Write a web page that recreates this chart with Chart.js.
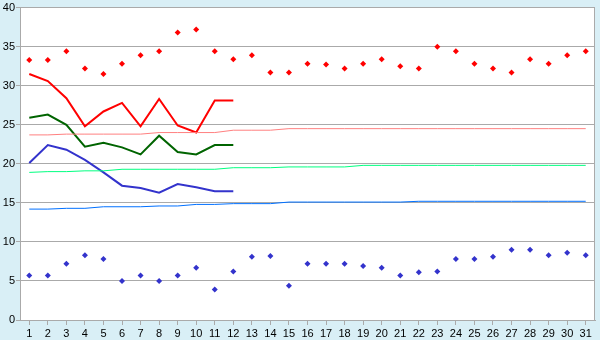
<!DOCTYPE html>
<html>
<head>
<meta charset="utf-8">
<title>Temperatures</title>
<script src="https://cdn.jsdelivr.net/npm/chart.js@4.4.1/dist/chart.umd.min.js"></script>
<style>
  html, body { margin: 0; padding: 0; background: #d9eff6; }
  #wrap { width: 600px; height: 340px; }
</style>
</head>
<body>
<div id="wrap"><canvas id="chart" width="600" height="340"></canvas></div>
<script>
const days = ["1","2","3","4","5","6","7","8","9","10","11","12","13","14","15","16","17","18","19","20","21","22","23","24","25","26","27","28","29","30","31"];

// daily extremes (diamonds)
const maxPoints = [33.3, 33.3, 34.4, 32.2, 31.5, 32.8, 33.9, 34.4, 36.8, 37.2, 34.4, 33.4, 33.9, 31.7, 31.7, 32.8, 32.7, 32.2, 32.8, 33.4, 32.5, 32.2, 35.0, 34.4, 32.8, 32.2, 31.7, 33.4, 32.8, 33.9, 34.4];
const minPoints = [5.7, 5.7, 7.2, 8.3, 7.8, 5.0, 5.7, 5.0, 5.7, 6.7, 3.9, 6.2, 8.1, 8.2, 4.4, 7.2, 7.2, 7.2, 6.9, 6.7, 5.7, 6.1, 6.2, 7.8, 7.8, 8.1, 9.0, 9.0, 8.3, 8.6, 8.3];

// first 12 days, thick lines
const redLine   = [31.5, 30.6, 28.4, 24.8, 26.7, 27.8, 24.8, 28.3, 24.9, 24.0, 28.1, 28.1];
const greenLine = [25.9, 26.3, 25.0, 22.2, 22.7, 22.1, 21.2, 23.6, 21.5, 21.2, 22.4, 22.4];
const blueLine  = [20.1, 22.4, 21.8, 20.5, 18.9, 17.2, 16.9, 16.3, 17.4, 17.0, 16.5, 16.5];

// thin reference lines
const normMax  = [23.7, 23.7, 23.8, 23.8, 23.8, 23.8, 23.8, 24.0, 24.0, 24.0, 24.0, 24.3, 24.3, 24.3, 24.5, 24.5, 24.5, 24.5, 24.5, 24.5, 24.5, 24.5, 24.5, 24.5, 24.5, 24.5, 24.5, 24.5, 24.5, 24.5, 24.5];
const normMean = [18.9, 19.0, 19.0, 19.1, 19.1, 19.3, 19.3, 19.3, 19.3, 19.3, 19.3, 19.5, 19.5, 19.5, 19.6, 19.6, 19.6, 19.6, 19.8, 19.8, 19.8, 19.8, 19.8, 19.8, 19.8, 19.8, 19.8, 19.8, 19.8, 19.8, 19.8];
const normMin  = [14.2, 14.2, 14.3, 14.3, 14.5, 14.5, 14.5, 14.6, 14.6, 14.8, 14.8, 14.9, 14.9, 14.9, 15.1, 15.1, 15.1, 15.1, 15.1, 15.1, 15.1, 15.2, 15.2, 15.2, 15.2, 15.2, 15.2, 15.2, 15.2, 15.2, 15.2];

const yTicks = [0, 5, 10, 15, 20, 25, 30, 35, 40];

const GRID = "#aaaaaa";

function lineSet(data, color, width) {
  return {
    type: "line",
    data,
    borderColor: color,
    borderWidth: width,
    pointRadius: 0,
    tension: 0,
    fill: false,
    spanGaps: false,
  };
}

function dotSet(data, color) {
  return {
    type: "line",
    data,
    showLine: false,
    pointStyle: "rectRot",
    pointRadius: 3,
    pointBackgroundColor: color,
    pointBorderColor: color,
    pointBorderWidth: 0,
  };
}

// white plot area + outline
const plotBox = {
  id: "plotBox",
  beforeDraw(chart) {
    const { ctx, chartArea: a } = chart;
    ctx.save();
    ctx.fillStyle = "#ffffff";
    ctx.fillRect(a.left, a.top, a.right - a.left, a.bottom - a.top);
    ctx.restore();
  },
  afterDatasetsDraw(chart) {
    const { ctx, chartArea: a } = chart;
    ctx.save();
    ctx.strokeStyle = GRID;
    ctx.lineWidth = 1;
    ctx.beginPath();
    ctx.moveTo(Math.round(a.right) - 0.5, a.top);
    ctx.lineTo(Math.round(a.right) - 0.5, a.bottom);
    ctx.stroke();
    ctx.restore();
  }
};

Chart.defaults.font.family = "'Liberation Sans', Arial, sans-serif";
Chart.defaults.font.size = 11;
Chart.defaults.color = "#000000";

new Chart(document.getElementById("chart"), {
  data: {
    labels: days,
    datasets: [
      lineSet(normMax, "#ff8080", 1),
      lineSet(normMean, "#00ff80", 1),
      lineSet(normMin, "#0070ff", 1),
      lineSet(redLine, "#ff0000", 2),
      lineSet(greenLine, "#006400", 2),
      lineSet(blueLine, "#3333cc", 2),
      dotSet(maxPoints, "#ff0000"),
      dotSet(minPoints, "#3333cc"),
    ]
  },
  options: {
    responsive: false,
    animation: false,
    layout: { padding: { top: 5, right: 5, left: 0, bottom: 0 } },
    plugins: {
      legend: { display: false },
      tooltip: { enabled: false }
    },
    scales: {
      x: {
        type: "category",
        offset: true,
        grid: { offset: false, drawOnChartArea: false, drawTicks: true, tickLength: 5, color: GRID },
        border: { color: GRID },
        ticks: { padding: 2, maxRotation: 0, autoSkip: false },
        afterFit(scale) { scale.height = 20; }
      },
      y: {
        min: 0,
        max: 40,
        afterBuildTicks(scale) { scale.ticks = yTicks.map(v => ({ value: v })); },
        grid: { color: GRID, tickLength: 4 },
        border: { color: GRID },
        ticks: { padding: 1 },
        afterFit(scale) { scale.width = 20; }
      }
    }
  },
  plugins: [plotBox]
});
</script>
</body>
</html>
